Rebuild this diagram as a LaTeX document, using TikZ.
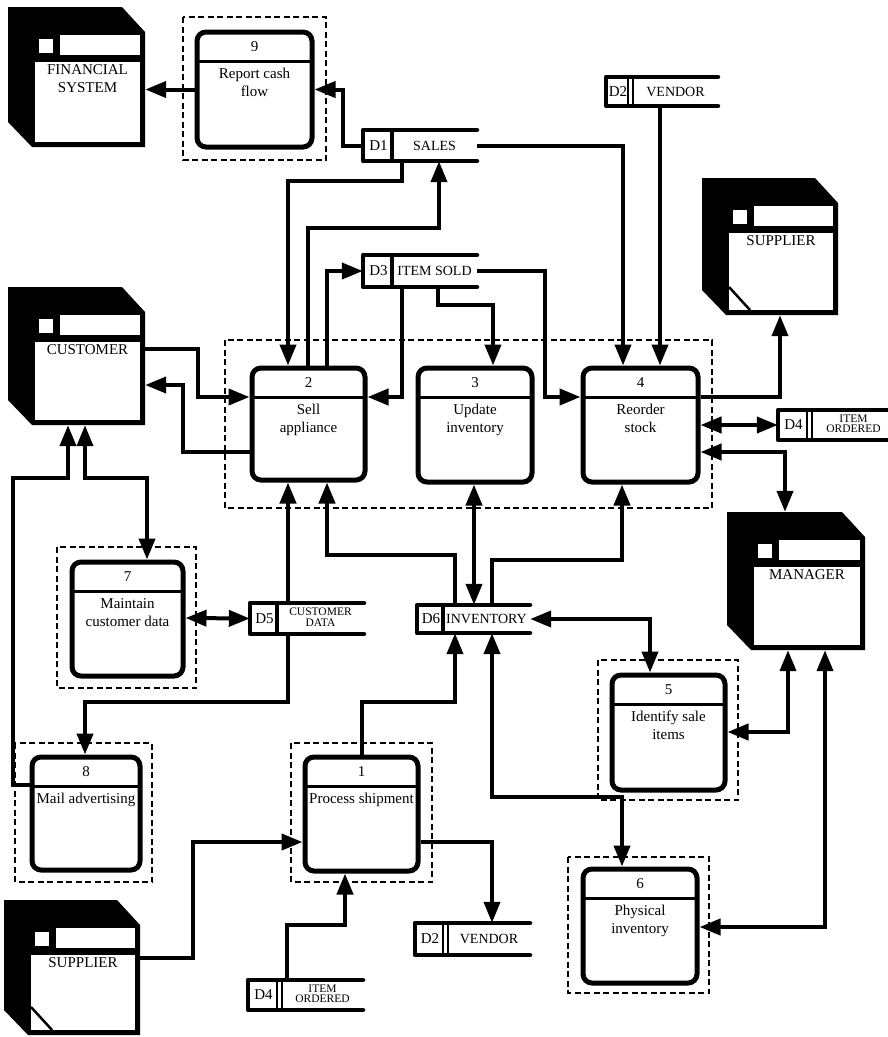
\documentclass[tikz,border=0pt]{standalone}
\usepackage{fontspec}
\setmainfont{Liberation Serif}
\usetikzlibrary{arrows.meta}

\newcommand{\entity}[7]{%
 \fill[black] (#2,#3) -- ({#4-23},#3) -- (#4,{#3+25}) -- (#4,#5) -- ({#2+24},#5) -- (#2,{#5-25}) -- cycle;
 \fill[white] ({#2+27},{#3+55}) rectangle ({#4-5},{#5-5});
 \fill[white] ({#2+52},{#3+28}) rectangle ({#4-5},{#3+48});
 \fill[white] ({#2+31},{#3+32}) rectangle ({#2+45},{#3+46});
 \ifnum#7=1 \draw[line width=2.5pt] ({#2+27},{#5-28}) -- ({#2+48},{#5-5}); \fi
 \node[inner sep=0, minimum width={(#4-#2)*1pt}, minimum height={(#5-#3)*1pt}] (#1) at ({(#2+#4)/2},{(#3+#5)/2}) {};
 \node[anchor=north, inner sep=0, align=center] at ({(#2+#4)/2+11},{#3+57}) {#6};
}

\newcommand{\proc}[7]{%
 \node[proc, minimum width={(#4-#2)*1pt}, minimum height={(#5-#3)*1pt}] (#1) at ({(#2+#4)/2},{(#3+#5)/2}) {};
 \draw[line width=3pt] (#2,{#3+29}) -- (#4,{#3+29});
 \node[inner sep=0] at ({(#2+#4)/2},{#3+15}) {#6};
 \node[anchor=north, inner sep=0, align=center] at ({(#2+#4)/2},{#3+36}) {#7};
}

% name, x0, y0, x1, y1, idx, ID, label, double
\newcommand{\dstore}[9]{%
 \node[inner sep=0, minimum width={(#4-#2)*1pt}, minimum height={(#5-#3)*1pt}] (#1) at ({(#2+#4)/2},{(#3+#5)/2}) {};
 \draw[line width=4.5pt, line cap=round, line join=round] (#4,#3) -- (#2,#3) -- (#2,#5) -- (#4,#5);
 \ifnum#9=1
   \draw[line width=2pt] (#6,#3) -- (#6,#5) ({#6+5},#3) -- ({#6+5},#5);
   \node[inner sep=0, font=\fontsize{14}{17}\selectfont] at ({(#6+5+#4)/2},{(#3+#5)/2}) {#8};
 \else
   \draw[line width=3.5pt] (#6,#3) -- (#6,#5);
   \node[inner sep=0, font=\fontsize{14}{17}\selectfont] at ({(#6+#4)/2},{(#3+#5)/2}) {#8};
 \fi
 \node[inner sep=0] at ({(#2+#6)/2+1},{(#3+#5)/2}) {#7};
}

\newcommand{\smalltwo}[2]{{\fontsize{11.5}{12}\selectfont\renewcommand{\arraystretch}{0.8}\begin{tabular}{@{}c@{}}#1\\#2\end{tabular}}}

\begin{document}
\begin{tikzpicture}[x=1pt,y=-1pt,
  every node/.style={font=\fontsize{15}{18}\selectfont},
  proc/.style={draw, line width=5pt, rounded corners=9pt, inner sep=0, fill=white},
  dbox/.style={line width=1.6pt, dash pattern=on 6pt off 3.5pt},
  flow/.style={line width=4pt, -{Triangle[length=21pt,width=16pt]}},
  bflow/.style={line width=4pt, {Triangle[length=21pt,width=16pt]}-{Triangle[length=21pt,width=16pt]}}]

\fill[white] (0,0) rectangle (887,1037);
\useasboundingbox (0,0) rectangle (887,1037);

% dashed boundaries
\draw[dbox] (183,17) rectangle (326,160);
\draw[dbox] (225,340) rectangle (712,508);
\draw[dbox] (57,547) rectangle (196,688);
\draw[dbox] (15,743) rectangle (152,882);
\draw[dbox] (291,743) rectangle (432,882);
\draw[dbox] (598,660) rectangle (738,800);
\draw[dbox] (568,857) rectangle (709,993);

% external entities
\entity{fin}{8}{7}{145}{147}{FINANCIAL\\SYSTEM}{0}
\entity{cust}{8}{287}{145}{425}{CUSTOMER}{0}
\entity{supR}{702}{178}{838}{315}{SUPPLIER}{1}
\entity{mgr}{727}{512}{865}{650}{MANAGER}{0}
\entity{supB}{4}{900}{140}{1035}{SUPPLIER}{1}

% processes
\proc{p9}{197}{32}{312}{147}{9}{Report cash\\flow}
\proc{p2}{252}{368}{365}{480}{2}{Sell\\appliance}
\proc{p3}{418}{368}{532}{482}{3}{Update\\inventory}
\proc{p4}{583}{368}{698}{482}{4}{Reorder\\stock}
\proc{p7}{72}{562}{183}{676}{7}{Maintain\\customer data}
\proc{p8}{32}{757}{140}{870}{8}{Mail advertising}
\proc{p1}{305}{757}{418}{871}{1}{Process shipment}
\proc{p5}{612}{675}{725}{790}{5}{Identify sale\\items}
\proc{p6}{583}{869}{697}{983}{6}{Physical\\inventory}

% data stores
\dstore{d1}{363}{130}{477}{161}{392}{D1}{SALES}{0}
\dstore{d2a}{606}{77}{718}{106}{628}{D2}{VENDOR}{1}
\dstore{d3}{363}{255}{477}{287}{392}{D3}{ITEM SOLD}{0}
\dstore{d4a}{778}{410}{895}{440}{807}{D4}{\smalltwo{ITEM}{ORDERED}}{1}
\dstore{d5}{250}{603}{364}{634}{277}{D5}{\smalltwo{CUSTOMER}{DATA}}{0}
\dstore{d6}{417}{605}{530}{633}{443}{D6}{INVENTORY}{0}
\dstore{d2b}{415}{923}{530}{955}{443}{D2}{VENDOR}{1}
\dstore{d4b}{248}{980}{363}{1010}{277}{D4}{\smalltwo{ITEM}{ORDERED}}{1}

% data flows
\draw[flow] (p9.west) -- (p9.west -| fin.east);
\draw[flow] (d1.west) -- (343,145.5) |- (p9.east);
\draw[flow] (d1.south -| 402,0) |- (288,181) -- (p2.north -| 288,0);
\draw[flow] (p2.north -| 308,0) |- (439,228) -- (d1.south -| 439,0);
\draw[flow] (p2.north -| 327,0) |- (d3.west);
\draw[flow] (d1.east) -| (p4.north -| 623,0);
\draw[flow] (d2a.south -| 660,0) -- (p4.north -| 660,0);
\draw[flow] (d3.south -| 402,0) |- (p2.east |- 0,397);
\draw[flow] (d3.south -| 438,0) |- (493,305) -- (p3.north -| 493,0);
\draw[flow] (d3.east) -| (545,397) -- (p4.west |- 0,397);
\draw[flow] (cust.east |- 0,349) -| (198,397) -- (p2.west |- 0,397);
\draw[flow] (p2.west |- 0,452) -| (183,385) -- (cust.east |- 0,385);
\draw[flow] (p4.east |- 0,397) -| (supR.south -| 780,0);
\draw[bflow] (p4.east |- 0,425) -- (d4a.west);
\draw[bflow] (p4.east |- 0,452) -| (mgr.north -| 785,0);
\draw[flow] (p8.west |- 0,785) -| (13,478) -| (cust.south -| 68,0);
\draw[bflow] (cust.south -| 85,0) |- (147,478) -- (p7.north -| 147,0);
\draw[bflow] (p7.east |- 0,618) -- (d5.west);
\draw[flow] (d5.north -| 288,0) -- (p2.south -| 288,0);
\draw[flow] (d5.south -| 288,0) |- (85,702) -- (p8.north -| 85,0);
\draw[flow] (d6.north -| 455,0) |- (327,555) -- (p2.south -| 327,0);
\draw[bflow] (p3.south -| 474,0) -- (d6.north -| 474,0);
\draw[flow] (d6.north -| 492,0) |- (622,560) -- (p4.south -| 622,0);
\draw[bflow] (d6.east) -| (p5.north -| 650,0);
\draw[flow] (p1.north -| 362,0) |- (455,702) -- (d6.south -| 455,0);
\draw[bflow] (d6.south -| 492,0) |- (622,797) -- (p6.north -| 622,0);
\draw[bflow] (mgr.south -| 788,0) |- (p5.east |- 0,732);
\draw[bflow] (mgr.south -| 825,0) |- (p6.east |- 0,927);
\draw[flow] (supB.east |- 0,958) -| (193,842) -- (p1.west |- 0,842);
\draw[flow] (p1.east |- 0,842) -| (d2b.north -| 492,0);
\draw[flow] (d4b.north -| 287,0) |- (345,925) -- (p1.south -| 345,0);
\end{tikzpicture}
\end{document}
